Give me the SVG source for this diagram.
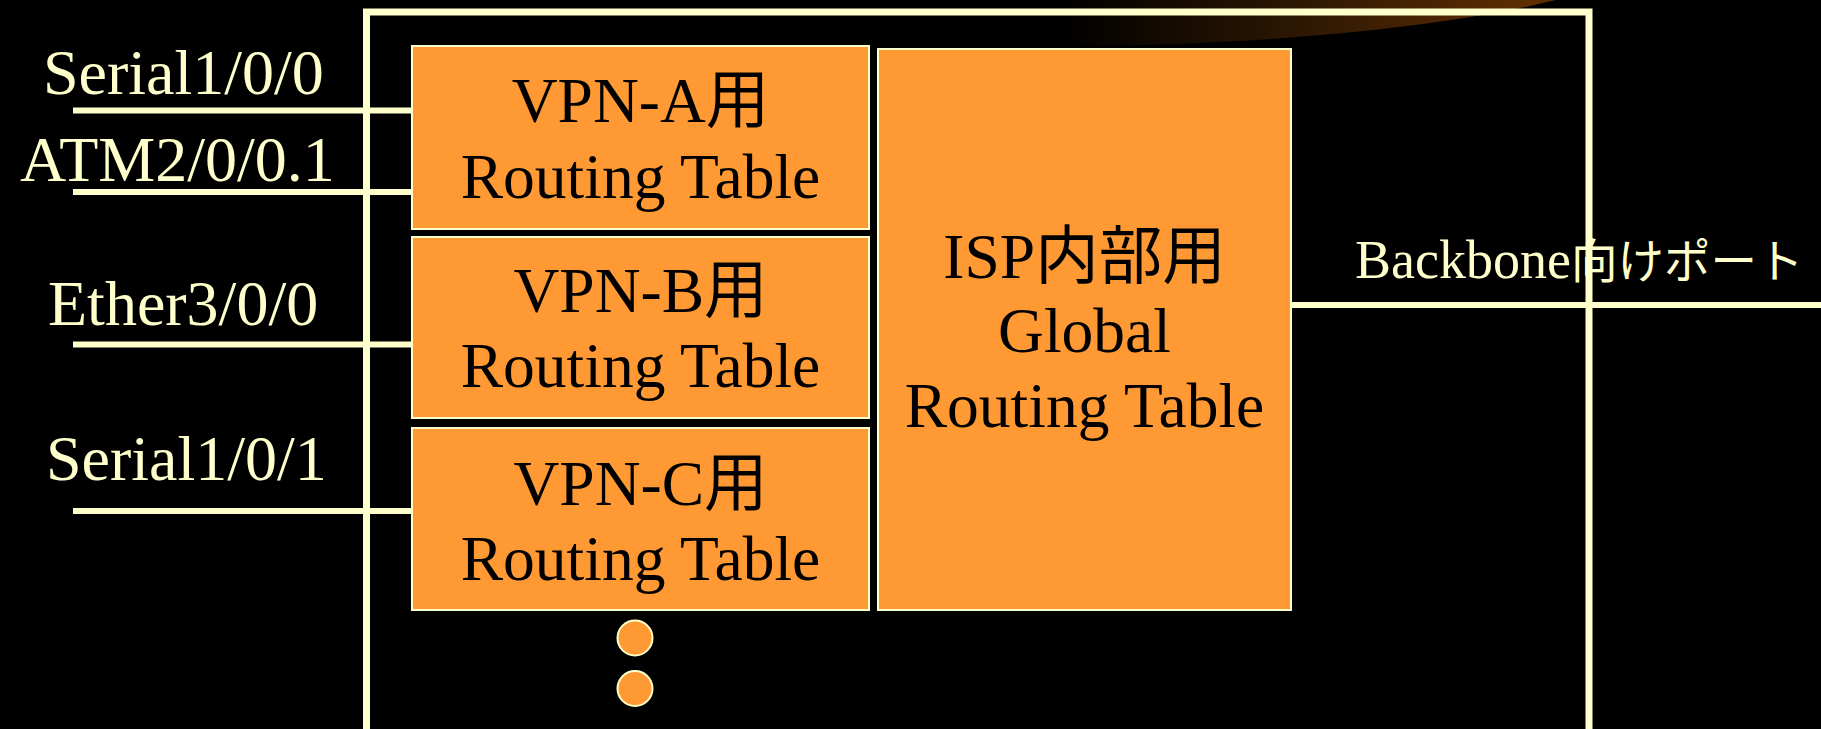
<svg xmlns="http://www.w3.org/2000/svg" width="1821" height="729" viewBox="0 0 1821 729">
  <defs>
    <linearGradient id="glow" x1="1060" y1="0" x2="1530" y2="0" gradientUnits="userSpaceOnUse">
      <stop offset="0" stop-color="#000000"/>
      <stop offset="0.5" stop-color="#2c1703"/>
      <stop offset="1" stop-color="#5e2e02"/>
    </linearGradient>
    <style>
      .wire { stroke: #FFFFCC; stroke-width: 6; fill: none; }
      .frame { stroke: #FFFFCC; stroke-width: 7; fill: none; stroke-linejoin: miter; }
      .table { fill: #FF9933; stroke: #FFFFCC; stroke-width: 2; }
      .dot { fill: #FF9933; stroke: #FFFFCC; stroke-width: 2; }
      .port { font-family: "Liberation Serif", "Noto Sans CJK JP", serif; font-size: 64px; fill: #FFFFCC; }
      .uplink { font-family: "Liberation Serif", "Noto Sans CJK JP", serif; font-size: 54px; fill: #FFFFCC; }
      .uplink .jp { font-size: 46.5px; }
      .name { font-family: "Liberation Serif", "Noto Sans CJK JP", serif; font-size: 63.5px; fill: #000000; text-anchor: middle; }
    </style>
  </defs>

  <!-- background -->
  <rect x="0" y="0" width="1821" height="729" fill="#000000"/>

  <!-- soft glow band along the top edge -->
  <path d="M 960,0 L 960,43 C 1180,53 1420,33 1556,0 Z" fill="url(#glow)"/>

  <!-- router chassis outline -->
  <path class="frame" d="M 366.5,740 V 12 H 1589 V 740"/>

  <!-- port lines -->
  <g id="connectors">
    <line class="wire" x1="73" y1="110.5" x2="412" y2="110.5"/>
    <line class="wire" x1="73" y1="192" x2="412" y2="192"/>
    <line class="wire" x1="73" y1="344.5" x2="412" y2="344.5"/>
    <line class="wire" x1="73" y1="511" x2="412" y2="511"/>
    <line class="wire" x1="1291" y1="305" x2="1821" y2="305"/>
  </g>

  <!-- port labels -->
  <g id="port-serial100"><text class="port" x="43" y="94">Serial1/0/0</text></g>
  <g id="port-atm"><text class="port" x="20" y="181">ATM2/0/0.1</text></g>
  <g id="port-ether"><text class="port" x="48" y="325">Ether3/0/0</text></g>
  <g id="port-serial101"><text class="port" x="46" y="480">Serial1/0/1</text></g>
  <g id="port-backbone"><text class="uplink" x="1355" y="278">Backbone<tspan class="jp">向けポート</tspan></text></g>

  <!-- VRF tables -->
  <g id="vpn-a">
    <rect class="table" x="412" y="46" width="457" height="183"/>
    <text class="name" x="640.5" y="122">VPN-A用</text>
    <text class="name" x="640.5" y="198">Routing Table</text>
  </g>
  <g id="vpn-b">
    <rect class="table" x="412" y="237" width="457" height="181"/>
    <text class="name" x="640.5" y="312">VPN-B用</text>
    <text class="name" x="640.5" y="387">Routing Table</text>
  </g>
  <g id="vpn-c">
    <rect class="table" x="412" y="428" width="457" height="182"/>
    <text class="name" x="640.5" y="505">VPN-C用</text>
    <text class="name" x="640.5" y="580">Routing Table</text>
  </g>

  <!-- global table -->
  <g id="global">
    <rect class="table" x="878" y="49" width="413" height="561"/>
    <text class="name" x="1084.5" y="278">ISP内部用</text>
    <text class="name" x="1084.5" y="352">Global</text>
    <text class="name" x="1084.5" y="427">Routing Table</text>
  </g>

  <!-- more tables -->
  <g id="ellipsis">
    <circle class="dot" cx="635" cy="638" r="17.5"/>
    <circle class="dot" cx="635" cy="688.5" r="17.5"/>
  </g>
</svg>
